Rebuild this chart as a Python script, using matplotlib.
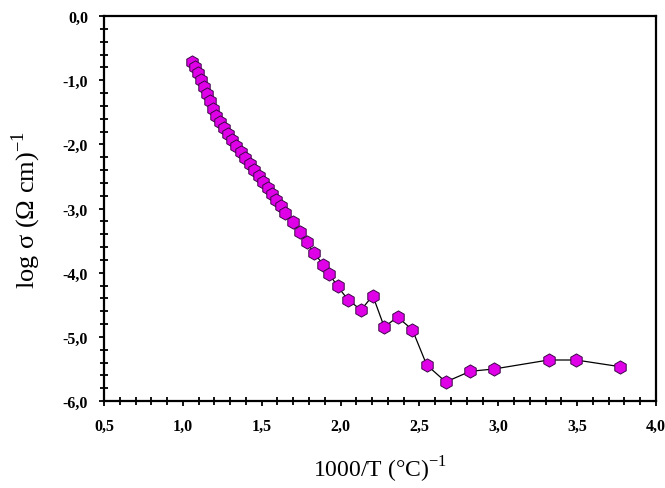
import matplotlib
matplotlib.use("Agg")
import matplotlib.pyplot as plt
from matplotlib.ticker import MultipleLocator, FuncFormatter

# datos
inv_t = [1.058, 1.077, 1.096, 1.115, 1.134, 1.153, 1.172, 1.191, 1.210, 1.236,
         1.261, 1.286, 1.312, 1.337, 1.369, 1.394, 1.426, 1.451, 1.483, 1.508,
         1.540, 1.565, 1.591, 1.622, 1.648, 1.697, 1.743, 1.785, 1.834, 1.891,
         1.929, 1.981, 2.049, 2.130, 2.204, 2.277, 2.361, 2.455, 2.546, 2.667,
         2.822, 2.973, 3.319, 3.493, 3.772]
log_sigma = [-0.717, -0.795, -0.888, -0.997, -1.106, -1.216, -1.325, -1.449, -1.558, -1.652,
             -1.745, -1.839, -1.932, -2.026, -2.119, -2.213, -2.306, -2.400, -2.493, -2.587,
             -2.680, -2.774, -2.867, -2.961, -3.070, -3.215, -3.361, -3.527, -3.698, -3.880,
             -4.021, -4.215, -4.426, -4.582, -4.356, -4.847, -4.691, -4.889, -5.438, -5.703,
             -5.537, -5.501, -5.361, -5.361, -5.465]

plt.rcParams['font.family'] = ['Liberation Serif', 'DejaVu Serif']
plt.rcParams['mathtext.fontset'] = 'custom'
plt.rcParams['mathtext.rm'] = 'Liberation Serif'

fig = plt.figure(figsize=(6.65, 4.89), dpi=100)
ax = fig.add_axes([0.1564, 0.1779, 0.8301, 0.7873])

ax.plot(inv_t, log_sigma, color='black', linewidth=0.9, marker='h', markersize=9.5,
        markerfacecolor='#e000e8', markeredgecolor='#3c0848', markeredgewidth=0.7)

ax.set_xlim(0.5, 4.0)
ax.set_ylim(-6.0, 0.0)
ax.xaxis.set_major_locator(MultipleLocator(0.5))
ax.xaxis.set_minor_locator(MultipleLocator(0.1))
ax.yaxis.set_major_locator(MultipleLocator(1.0))
ax.yaxis.set_minor_locator(MultipleLocator(0.2))
coma = FuncFormatter(lambda v, p: f"{v:.1f}".replace('.', ','))
ax.xaxis.set_major_formatter(coma)
ax.yaxis.set_major_formatter(coma)

ax.tick_params(which='major', direction='out', length=3.5, width=1.3, labelsize=11.5)
ax.tick_params(axis='x', which='major', pad=9)
ax.tick_params(axis='y', which='major', pad=8)
ax.tick_params(which='minor', direction='inout', length=6, width=1.3)
ax.tick_params(top=False, right=False, which='both')
for lab in ax.get_xticklabels() + ax.get_yticklabels():
    lab.set_fontweight('bold')
for s in ax.spines.values():
    s.set_linewidth(1.6)

ax.set_xlabel("1000/T (°C)$^{-1}$", fontsize=17, labelpad=14)
ax.set_ylabel("log σ (Ω cm)$^{-1}$", fontsize=19, labelpad=14)

fig.savefig("out.png", dpi=100)
